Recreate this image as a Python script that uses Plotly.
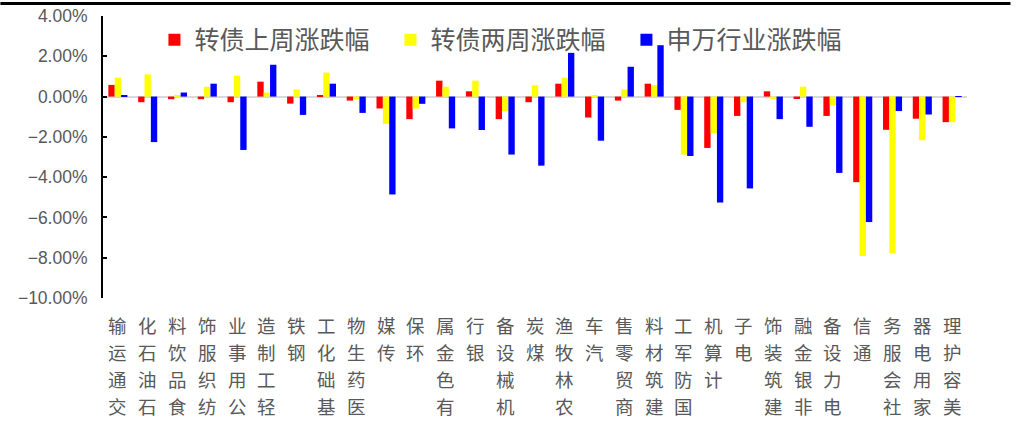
import plotly.graph_objects as go

# 申万一级行业
industries = ["交通运输", "石油石化", "食品饮料", "纺织服饰", "公用事业", "轻工制造", "钢铁",
              "基础化工", "医药生物", "传媒", "环保", "有色金属", "银行", "机械设备", "煤炭",
              "农林牧渔", "汽车", "商贸零售", "建筑材料", "国防军工", "计算机", "电子",
              "建筑装饰", "非银金融", "电力设备", "通信", "社会服务", "家用电器", "美容护理"]

# 涨跌幅（%）
cb_last_week = [0.58, -0.28, -0.13, -0.13, -0.28, 0.74, -0.35, 0.05, -0.20, -0.59, -1.12, 0.79,
                0.26, -1.12, -0.28, 0.64, -1.04, -0.20, 0.64, -0.66, -2.55, -0.96, 0.26, -0.12,
                -0.96, -4.25, -1.65, -1.10, -1.27]
cb_two_weeks = [0.94, 1.10, 0.05, 0.49, 1.04, 0.20, 0.35, 1.19, -0.13, -1.35, -0.59, 0.49,
                0.79, -0.72, 0.56, 0.94, 0.03, 0.35, 0.56, -2.88, -1.81, -0.28, -0.12, 0.49,
                -0.43, -7.92, -7.78, -2.17, -1.27]
sw_industry = [0.03, -2.26, 0.20, 0.64, -2.65, 1.58, -0.91, 0.64, -0.81, -4.86, -0.36, -1.58,
               -1.66, -2.88, -3.43, 2.17, -2.19, 1.48, 2.55, -2.95, -5.26, -4.56, -1.12, -1.50,
               -3.79, -6.23, -0.72, -0.89, 0.02]

series_names = ["转债上周涨跌幅", "转债两周涨跌幅", "申万行业涨跌幅"]
series_colors = ["#FF0000", "#FFFF00", "#0000FF"]

cjk_font = "Noto Sans CJK SC"
grey = "#595959"

fig = go.Figure()
for name, values, color in zip(series_names, [cb_last_week, cb_two_weeks, sw_industry], series_colors):
    fig.add_trace(go.Bar(x=industries, y=values, name=name, marker_color=color,
                         marker_line_width=0))

# 竖排分类标签：每个字单独一行，自下而上阅读，顶端对齐于坐标轴下方
label_annotations = []
line_step = 27
first_offset = 26.7
for name in industries:
    for row, ch in enumerate(reversed(name)):
        label_annotations.append(dict(
            x=name, xref="x", y=0, yref="paper",
            text=ch, showarrow=False, xanchor="center", yanchor="middle",
            yshift=-(first_offset + line_step * row),
            font=dict(family=cjk_font, size=18.5, color=grey)))

fig.update_layout(
    width=1016, height=421,
    margin=dict(l=102.6, r=49.4, t=15.5, b=122.7, autoexpand=False),
    paper_bgcolor="white", plot_bgcolor="white",
    barmode="group", bargap=0.36, bargroupgap=0.0,
    showlegend=True,
    legend=dict(orientation="h", xref="container", yref="container",
                x=0.152, y=0.905, xanchor="left", yanchor="middle",
                entrywidth=191, entrywidthmode="pixels",
                font=dict(family=cjk_font, size=25, color=grey),
                bgcolor="rgba(0,0,0,0)"),
    xaxis=dict(categoryorder="array", categoryarray=industries,
               showticklabels=False, showline=False, ticks="", showgrid=False,
               zeroline=False, automargin=False),
    yaxis=dict(range=[-10, 4], dtick=2, tickformat=".2f", ticksuffix="%",
               showgrid=False, showline=True, linecolor="black", linewidth=2,
               ticks="inside", ticklen=4, tickcolor="black", tickwidth=2,
               zeroline=True, zerolinecolor="#d9d9d9", zerolinewidth=2,
               ticklabelstandoff=10, automargin=False,
               tickfont=dict(family="Liberation Sans", size=17.5, color=grey)),
    annotations=label_annotations,
)

# 顶部黑色分隔线
fig.add_shape(type="line", xref="paper", yref="paper",
              x0=-102.6 / 863.9, x1=(1010 - 102.6) / 863.9,
              y0=1 + 12.5 / 282.8, y1=1 + 12.5 / 282.8,
              line=dict(color="black", width=3))

fig.write_html("out.html")
